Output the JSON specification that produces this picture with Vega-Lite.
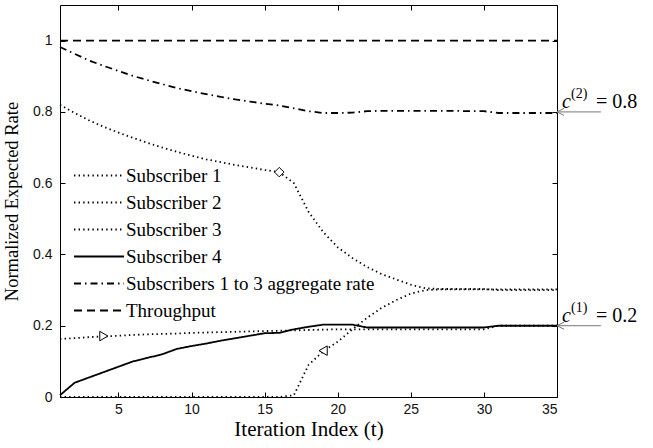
{
  "$schema": "https://vega.github.io/schema/vega-lite/v6.json",
  "width": 497,
  "height": 392,
  "autosize": {"type": "none"},
  "padding": {"left": 60, "top": 5, "right": 96, "bottom": 51},
  "background": "white",
  "config": {
    "view": {"stroke": "black", "strokeWidth": 1},
    "axis": {
      "labelFont": "Liberation Sans",
      "labelFontSize": 14,
      "labelColor": "#111",
      "titleFont": "Liberation Serif",
      "titleFontSize": 20,
      "titleFontWeight": "normal",
      "titleColor": "black",
      "domain": false,
      "grid": false,
      "tickColor": "black",
      "tickSize": -5,
      "labelPadding": 11
    }
  },
  "datasets": {
    "rates": [
      {"t": 1, "Subscriber 1": 0, "Subscriber 2": 0.163, "Subscriber 3": 0.82, "Subscriber 4": 0.005, "Subscribers 1 to 3 aggregate rate": 0.982, "Throughput": 1},
      {"t": 2, "Subscriber 1": 0, "Subscriber 2": 0.165, "Subscriber 3": 0.797, "Subscriber 4": 0.04, "Subscribers 1 to 3 aggregate rate": 0.963, "Throughput": 1},
      {"t": 3, "Subscriber 1": 0, "Subscriber 2": 0.168, "Subscriber 3": 0.776, "Subscriber 4": 0.055, "Subscribers 1 to 3 aggregate rate": 0.944, "Throughput": 1},
      {"t": 4, "Subscriber 1": 0, "Subscriber 2": 0.17, "Subscriber 3": 0.758, "Subscriber 4": 0.07, "Subscribers 1 to 3 aggregate rate": 0.929, "Throughput": 1},
      {"t": 5, "Subscriber 1": 0, "Subscriber 2": 0.172, "Subscriber 3": 0.742, "Subscriber 4": 0.085, "Subscribers 1 to 3 aggregate rate": 0.915, "Throughput": 1},
      {"t": 6, "Subscriber 1": 0, "Subscriber 2": 0.174, "Subscriber 3": 0.727, "Subscriber 4": 0.1, "Subscribers 1 to 3 aggregate rate": 0.901, "Throughput": 1},
      {"t": 7, "Subscriber 1": 0, "Subscriber 2": 0.176, "Subscriber 3": 0.713, "Subscriber 4": 0.11, "Subscribers 1 to 3 aggregate rate": 0.889, "Throughput": 1},
      {"t": 8, "Subscriber 1": 0, "Subscriber 2": 0.177, "Subscriber 3": 0.7, "Subscriber 4": 0.12, "Subscribers 1 to 3 aggregate rate": 0.878, "Throughput": 1},
      {"t": 9, "Subscriber 1": 0, "Subscriber 2": 0.178, "Subscriber 3": 0.688, "Subscriber 4": 0.135, "Subscribers 1 to 3 aggregate rate": 0.867, "Throughput": 1},
      {"t": 10, "Subscriber 1": 0, "Subscriber 2": 0.18, "Subscriber 3": 0.677, "Subscriber 4": 0.143, "Subscribers 1 to 3 aggregate rate": 0.858, "Throughput": 1},
      {"t": 11, "Subscriber 1": 0, "Subscriber 2": 0.181, "Subscriber 3": 0.667, "Subscriber 4": 0.15, "Subscribers 1 to 3 aggregate rate": 0.85, "Throughput": 1},
      {"t": 12, "Subscriber 1": 0, "Subscriber 2": 0.182, "Subscriber 3": 0.659, "Subscriber 4": 0.158, "Subscribers 1 to 3 aggregate rate": 0.842, "Throughput": 1},
      {"t": 13, "Subscriber 1": 0, "Subscriber 2": 0.183, "Subscriber 3": 0.651, "Subscriber 4": 0.165, "Subscribers 1 to 3 aggregate rate": 0.835, "Throughput": 1},
      {"t": 14, "Subscriber 1": 0, "Subscriber 2": 0.184, "Subscriber 3": 0.644, "Subscriber 4": 0.172, "Subscribers 1 to 3 aggregate rate": 0.829, "Throughput": 1},
      {"t": 15, "Subscriber 1": 0, "Subscriber 2": 0.185, "Subscriber 3": 0.637, "Subscriber 4": 0.179, "Subscribers 1 to 3 aggregate rate": 0.823, "Throughput": 1},
      {"t": 16, "Subscriber 1": 0, "Subscriber 2": 0.186, "Subscriber 3": 0.631, "Subscriber 4": 0.18, "Subscribers 1 to 3 aggregate rate": 0.818, "Throughput": 1},
      {"t": 17, "Subscriber 1": 0.005, "Subscriber 2": 0.187, "Subscriber 3": 0.6, "Subscriber 4": 0.19, "Subscribers 1 to 3 aggregate rate": 0.81, "Throughput": 1},
      {"t": 18, "Subscriber 1": 0.09, "Subscriber 2": 0.188, "Subscriber 3": 0.52, "Subscriber 4": 0.197, "Subscribers 1 to 3 aggregate rate": 0.802, "Throughput": 1},
      {"t": 19, "Subscriber 1": 0.128, "Subscriber 2": 0.189, "Subscriber 3": 0.463, "Subscriber 4": 0.203, "Subscribers 1 to 3 aggregate rate": 0.797, "Throughput": 1},
      {"t": 20, "Subscriber 1": 0.155, "Subscriber 2": 0.19, "Subscriber 3": 0.42, "Subscriber 4": 0.203, "Subscribers 1 to 3 aggregate rate": 0.797, "Throughput": 1},
      {"t": 21, "Subscriber 1": 0.19, "Subscriber 2": 0.19, "Subscriber 3": 0.39, "Subscriber 4": 0.203, "Subscribers 1 to 3 aggregate rate": 0.798, "Throughput": 1},
      {"t": 22, "Subscriber 1": 0.222, "Subscriber 2": 0.19, "Subscriber 3": 0.365, "Subscriber 4": 0.195, "Subscribers 1 to 3 aggregate rate": 0.802, "Throughput": 1},
      {"t": 23, "Subscriber 1": 0.25, "Subscriber 2": 0.19, "Subscriber 3": 0.345, "Subscriber 4": 0.195, "Subscribers 1 to 3 aggregate rate": 0.803, "Throughput": 1},
      {"t": 24, "Subscriber 1": 0.272, "Subscriber 2": 0.19, "Subscriber 3": 0.33, "Subscriber 4": 0.195, "Subscribers 1 to 3 aggregate rate": 0.803, "Throughput": 1},
      {"t": 25, "Subscriber 1": 0.29, "Subscriber 2": 0.19, "Subscriber 3": 0.315, "Subscriber 4": 0.195, "Subscribers 1 to 3 aggregate rate": 0.803, "Throughput": 1},
      {"t": 26, "Subscriber 1": 0.3, "Subscriber 2": 0.19, "Subscriber 3": 0.305, "Subscriber 4": 0.195, "Subscribers 1 to 3 aggregate rate": 0.803, "Throughput": 1},
      {"t": 27, "Subscriber 1": 0.302, "Subscriber 2": 0.19, "Subscriber 3": 0.303, "Subscriber 4": 0.195, "Subscribers 1 to 3 aggregate rate": 0.803, "Throughput": 1},
      {"t": 28, "Subscriber 1": 0.302, "Subscriber 2": 0.19, "Subscriber 3": 0.303, "Subscriber 4": 0.195, "Subscribers 1 to 3 aggregate rate": 0.803, "Throughput": 1},
      {"t": 29, "Subscriber 1": 0.302, "Subscriber 2": 0.19, "Subscriber 3": 0.303, "Subscriber 4": 0.195, "Subscribers 1 to 3 aggregate rate": 0.802, "Throughput": 1},
      {"t": 30, "Subscriber 1": 0.302, "Subscriber 2": 0.19, "Subscriber 3": 0.303, "Subscriber 4": 0.195, "Subscribers 1 to 3 aggregate rate": 0.802, "Throughput": 1},
      {"t": 31, "Subscriber 1": 0.302, "Subscriber 2": 0.2, "Subscriber 3": 0.3, "Subscriber 4": 0.2, "Subscribers 1 to 3 aggregate rate": 0.797, "Throughput": 1},
      {"t": 32, "Subscriber 1": 0.302, "Subscriber 2": 0.2, "Subscriber 3": 0.3, "Subscriber 4": 0.2, "Subscribers 1 to 3 aggregate rate": 0.797, "Throughput": 1},
      {"t": 33, "Subscriber 1": 0.302, "Subscriber 2": 0.2, "Subscriber 3": 0.3, "Subscriber 4": 0.2, "Subscribers 1 to 3 aggregate rate": 0.797, "Throughput": 1},
      {"t": 34, "Subscriber 1": 0.302, "Subscriber 2": 0.2, "Subscriber 3": 0.3, "Subscriber 4": 0.2, "Subscribers 1 to 3 aggregate rate": 0.797, "Throughput": 1},
      {"t": 35, "Subscriber 1": 0.302, "Subscriber 2": 0.2, "Subscriber 3": 0.3, "Subscriber 4": 0.2, "Subscribers 1 to 3 aggregate rate": 0.797, "Throughput": 1}
    ],
    "markers": [
      {"t": 19, "value": 0.13, "series": "Subscriber 1"},
      {"t": 4, "value": 0.171, "series": "Subscriber 2"},
      {"t": 16, "value": 0.631, "series": "Subscriber 3"}
    ],
    "notes": [
      {"t": 35, "t2": 38, "value": 0.8, "base": "c", "sup": "(2)", "rest": "= 0.8"},
      {"t": 35, "t2": 38, "value": 0.2, "base": "c", "sup": "(1)", "rest": "= 0.2"}
    ]
  },
  "layer": [
    {
      "data": {"name": "rates"},
      "transform": [
        {"fold": ["Subscriber 1", "Subscriber 2", "Subscriber 3", "Subscriber 4", "Subscribers 1 to 3 aggregate rate", "Throughput"], "as": ["series", "value"]}
      ],
      "mark": {"type": "line", "color": "black", "strokeCap": "butt"},
      "encoding": {
        "x": {
          "field": "t", "type": "quantitative",
          "scale": {"domain": [1, 35], "nice": false, "zero": false},
          "axis": {"values": [5, 10, 15, 20, 25, 30, 35], "title": "Iteration Index  (t)", "titleFont": "Liberation Serif", "titleFontSize": 21, "titleFontWeight": "normal", "titlePadding": 2, "orient": "bottom", "labelPadding": 10}
        },
        "y": {
          "field": "value", "type": "quantitative",
          "scale": {"domain": [0, 1.1], "nice": false},
          "axis": {"values": [0, 0.2, 0.4, 0.6, 0.8, 1], "format": "~g", "title": "Normalized Expected Rate", "titleFont": "Liberation Serif", "titleFontSize": 18.5, "titleFontWeight": "normal", "titlePadding": 11, "orient": "left", "labelPadding": 13}
        },
        "detail": {"field": "series"},
        "strokeDash": {
          "field": "series", "type": "nominal",
          "scale": {
            "domain": ["Subscriber 1", "Subscriber 2", "Subscriber 3", "Subscriber 4", "Subscribers 1 to 3 aggregate rate", "Throughput"],
            "range": [[1.4, 3.2], [1.4, 3.2], [1.4, 3.2], [1, 0], [7, 4, 1.5, 4], [8, 5]]
          },
          "legend": {
            "title": null, "orient": "none", "legendX": 13, "legendY": 157,
            "symbolType": "stroke", "symbolSize": 2500, "symbolStrokeColor": "black",
            "clipHeight": 27, "rowPadding": 0, "padding": 0, "labelOffset": 1,
            "labelFont": "Liberation Serif", "labelFontSize": 19, "labelColor": "black", "labelLimit": 400
          }
        },
        "strokeWidth": {
          "field": "series", "type": "nominal",
          "scale": {
            "domain": ["Subscriber 1", "Subscriber 2", "Subscriber 3", "Subscriber 4", "Subscribers 1 to 3 aggregate rate", "Throughput"],
            "range": [1.8, 1.8, 1.8, 3.2, 1.2, 1.2]
          },
          "legend": {
            "title": null, "orient": "none", "legendX": 13, "legendY": 157,
            "symbolType": "stroke", "symbolSize": 2500, "symbolStrokeColor": "black",
            "clipHeight": 27, "rowPadding": 0, "padding": 0, "labelOffset": 1,
            "labelFont": "Liberation Serif", "labelFontSize": 19, "labelColor": "black", "labelLimit": 400
          }
        }
      }
    },
    {
      "data": {"name": "markers"},
      "mark": {"type": "point", "filled": false, "fill": "white", "fillOpacity": 1, "stroke": "black", "strokeWidth": 1, "size": 90, "opacity": 1},
      "encoding": {
        "x": {"field": "t", "type": "quantitative", "axis": {"orient": "top", "values": [5, 10, 15, 20, 25, 30, 35], "labels": false, "title": null}},
        "y": {"field": "value", "type": "quantitative", "axis": {"orient": "right", "values": [0, 0.2, 0.4, 0.6, 0.8, 1], "labels": false, "title": null}},
        "shape": {
          "field": "series", "type": "nominal",
          "scale": {"domain": ["Subscriber 1", "Subscriber 2", "Subscriber 3"], "range": ["triangle-left", "triangle-right", "diamond"]},
          "legend": null
        }
      }
    },
    {
      "data": {"name": "notes"},
      "mark": {"type": "rule", "color": "#777", "strokeWidth": 1},
      "encoding": {
        "x": {"field": "t", "type": "quantitative", "axis": null},
        "x2": {"field": "t2"},
        "y": {"field": "value", "type": "quantitative", "axis": null}
      }
    },
    {
      "data": {"name": "notes"},
      "mark": {"type": "point", "shape": "M0,0L1,-0.5M0,0L1,0.5", "size": 196, "filled": false, "stroke": "#777", "strokeWidth": 1, "opacity": 1},
      "encoding": {
        "x": {"field": "t", "type": "quantitative", "axis": null},
        "y": {"field": "value", "type": "quantitative", "axis": null}
      }
    },
    {
      "data": {"name": "notes"},
      "mark": {"type": "text", "align": "left", "baseline": "alphabetic", "dx": 5, "dy": -4, "font": "Liberation Serif", "fontStyle": "italic", "fontSize": 20, "color": "black"},
      "encoding": {
        "x": {"field": "t", "type": "quantitative", "axis": null},
        "y": {"field": "value", "type": "quantitative", "axis": null},
        "text": {"field": "base"}
      }
    },
    {
      "data": {"name": "notes"},
      "mark": {"type": "text", "align": "left", "baseline": "alphabetic", "dx": 14, "dy": -14, "font": "Liberation Serif", "fontSize": 14, "color": "black"},
      "encoding": {
        "x": {"field": "t", "type": "quantitative", "axis": null},
        "y": {"field": "value", "type": "quantitative", "axis": null},
        "text": {"field": "sup"}
      }
    },
    {
      "data": {"name": "notes"},
      "mark": {"type": "text", "align": "left", "baseline": "alphabetic", "dx": 39, "dy": -4, "font": "Liberation Serif", "fontSize": 20, "color": "black"},
      "encoding": {
        "x": {"field": "t", "type": "quantitative", "axis": null},
        "y": {"field": "value", "type": "quantitative", "axis": null},
        "text": {"field": "rest"}
      }
    }
  ]
}
